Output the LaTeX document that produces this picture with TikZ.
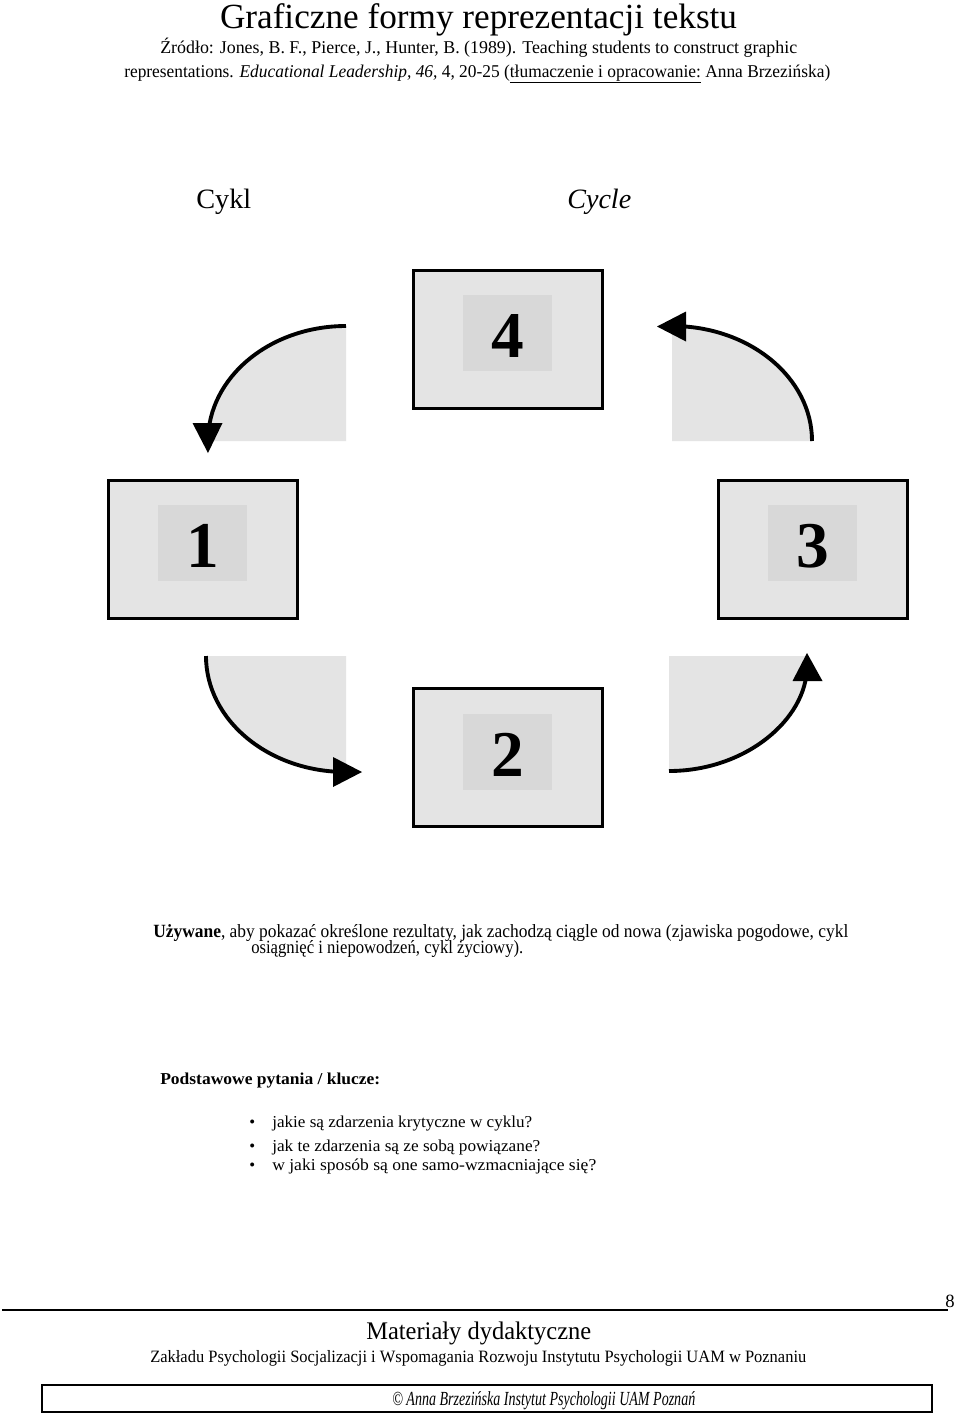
\documentclass[tikz,border=0pt]{standalone}
\usepackage{fontspec}
\setmainfont{Liberation Serif}
\usepackage{graphicx}
\newcommand{\fitw}[2]{\resizebox{#1}{\height}{#2}}
\definecolor{boxgray}{RGB}{228,228,228}
\definecolor{innergray}{RGB}{216,216,216}
\begin{document}
\begin{tikzpicture}[x=0.75pt,y=-0.75pt,
  outerbox/.style={draw=black, line width=2.25pt, fill=boxgray, minimum width=141.75pt, minimum height=103.5pt, inner sep=0pt},
  innerbox/.style={fill=innergray, minimum width=66.75pt, minimum height=57pt, inner sep=0pt},
  digit/.style={font=\fontsize{49}{50}\selectfont\bfseries, inner sep=0pt, anchor=base},
  arcline/.style={line width=2.9pt},
  quarter/.style={fill=boxgray},
  tiphead/.style={fill=black},
  txt/.style={inner sep=0pt, anchor=base west},
  ctxt/.style={inner sep=0pt, anchor=base}]
\useasboundingbox (0,0) rectangle (960,1415);
\fill[white] (0,0) rectangle (960,1415);

% header
\node[ctxt, font=\fontsize{26.5}{30}\selectfont] (title) at (478.5,28) {\fitw{387.75pt}{Graficzne formy reprezentacji tekstu}};
\node[txt, font=\fontsize{13.5}{15}\selectfont] (src1) at (160,53) {\fitw{477.75pt}{Źródło: Jones, B. F., Pierce, J., Hunter, B. (1989). Teaching students to construct graphic}};
\node[txt, font=\fontsize{13.5}{15}\selectfont] (src2) at (124,77) {\fitw{529.5pt}{representations. \textit{Educational Leadership, 46,} 4, 20-25 (\underline{tłumaczenie i opracowanie:} Anna Brzezińska)}};

\node[txt, font=\fontsize{21}{24}\selectfont] (cykl) at (196,208) {\fitw{41.25pt}{Cykl}};
\node[txt, font=\fontsize{21}{24}\selectfont\itshape] (cycle) at (567,208) {\fitw{48pt}{Cycle}};

% quarter regions
\fill[quarter] (346,441) -- (208,441) .. controls (208,377.5) and (269.8,326) .. (346,326) -- cycle;
\fill[quarter] (672,441) -- (812,441) .. controls (812,377.5) and (749.3,326) .. (672,326) -- cycle;
\fill[quarter] (346,656) -- (206,656) .. controls (206,720.1) and (268.7,772) .. (346,772) -- cycle;
\fill[quarter] (669,656) -- (669,771) .. controls (745.2,771) and (807,719.5) .. (807,656) -- cycle;

% arcs
\draw[arcline] (346,326) .. controls (269.8,326) and (208,377.5) .. (208,441);
\draw[arcline] (812,441) .. controls (812,377.5) and (749.3,326) .. (672,326);
\draw[arcline] (206,656) .. controls (206,720.1) and (268.7,772) .. (346,772);
\draw[arcline] (669,771) .. controls (745.2,771) and (807,719.5) .. (807,666);

% arrow heads
\fill[tiphead] (192.5,423) -- (222.5,423) -- (208,453) -- cycle;
\fill[tiphead] (686,311.5) -- (686,341.5) -- (657,326.5) -- cycle;
\fill[tiphead] (333,757) -- (333,787) -- (362,772) -- cycle;
\fill[tiphead] (792.5,681) -- (822.5,681) -- (807,653) -- cycle;

% boxes
\node[outerbox] (b4) at (508,339.5) {};
\node[innerbox] (i4) at (507.5,333) {};
\node[digit] (d4) at (507.5,357) {4};

\node[outerbox] (b1) at (203,549) {};
\node[innerbox] (i1) at (202.5,542.5) {};
\node[digit] (d1) at (202.5,567) {1};

\node[outerbox] (b3) at (813,549) {};
\node[innerbox] (i3) at (812.5,542.5) {};
\node[digit] (d3) at (812.5,567) {3};

\node[outerbox] (b2) at (508,757.5) {};
\node[innerbox] (i2) at (507.5,751.5) {};
\node[digit] (d2) at (507.5,776) {2};

% description
\node[txt, font=\fontsize{14}{15}\selectfont] (p1) at (153,937) {\fitw{521.25pt}{\textbf{Używane}, aby pokazać określone rezultaty, jak zachodzą ciągle od nowa (zjawiska pogodowe, cykl}};
\node[txt, font=\fontsize{14}{15}\selectfont] (p2) at (251,953) {\fitw{204pt}{osiągnięć i niepowodzeń, cykl życiowy).}};

\node[txt, font=\fontsize{12.5}{14}\selectfont\bfseries] (q0) at (160,1084) {\fitw{165pt}{Podstawowe pytania / klucze:}};
\node[txt, font=\fontsize{12.5}{14}\selectfont] (bu1) at (249,1127) {•};
\node[txt, font=\fontsize{12.5}{14}\selectfont] (q1) at (272,1127) {\fitw{195pt}{jakie są zdarzenia krytyczne w cyklu?}};
\node[txt, font=\fontsize{12.5}{14}\selectfont] (bu2) at (249,1151) {•};
\node[txt, font=\fontsize{12.5}{14}\selectfont] (q2) at (272,1151) {\fitw{201pt}{jak te zdarzenia są ze sobą powiązane?}};
\node[txt, font=\fontsize{12.5}{14}\selectfont] (bu3) at (249,1170) {•};
\node[txt, font=\fontsize{12.5}{14}\selectfont] (q3) at (272,1170) {\fitw{243pt}{w jaki sposób są one samo-wzmacniające się?}};

% footer
\coordinate (rl) at (2,1310);
\coordinate (rr) at (948,1310);
\draw[line width=1.1pt] (rl) -- (rr);
\node[inner sep=0pt, anchor=base east, font=\fontsize{14}{16}\selectfont] (pg) at (955,1307) {\fitw{7pt}{8}};
\node[txt, font=\fontsize{19}{21}\selectfont] (mat) at (366,1339) {\fitw{168.75pt}{Materiały dydaktyczne}};
\node[txt, font=\fontsize{13}{15}\selectfont] (zak) at (150,1362) {\fitw{492pt}{Zakładu Psychologii Socjalizacji i Wspomagania Rozwoju Instytutu Psychologii UAM w Poznaniu}};
\node[draw=black, line width=1pt, minimum width=667.5pt, minimum height=20.25pt, inner sep=0pt] (cbox) at (487,1398.5) {};
\node[txt, font=\fontsize{15}{17}\selectfont\itshape] (copy) at (392,1405) {\fitw{227.25pt}{© Anna Brzezińska Instytut Psychologii UAM Poznań}};
\end{tikzpicture}
\end{document}
